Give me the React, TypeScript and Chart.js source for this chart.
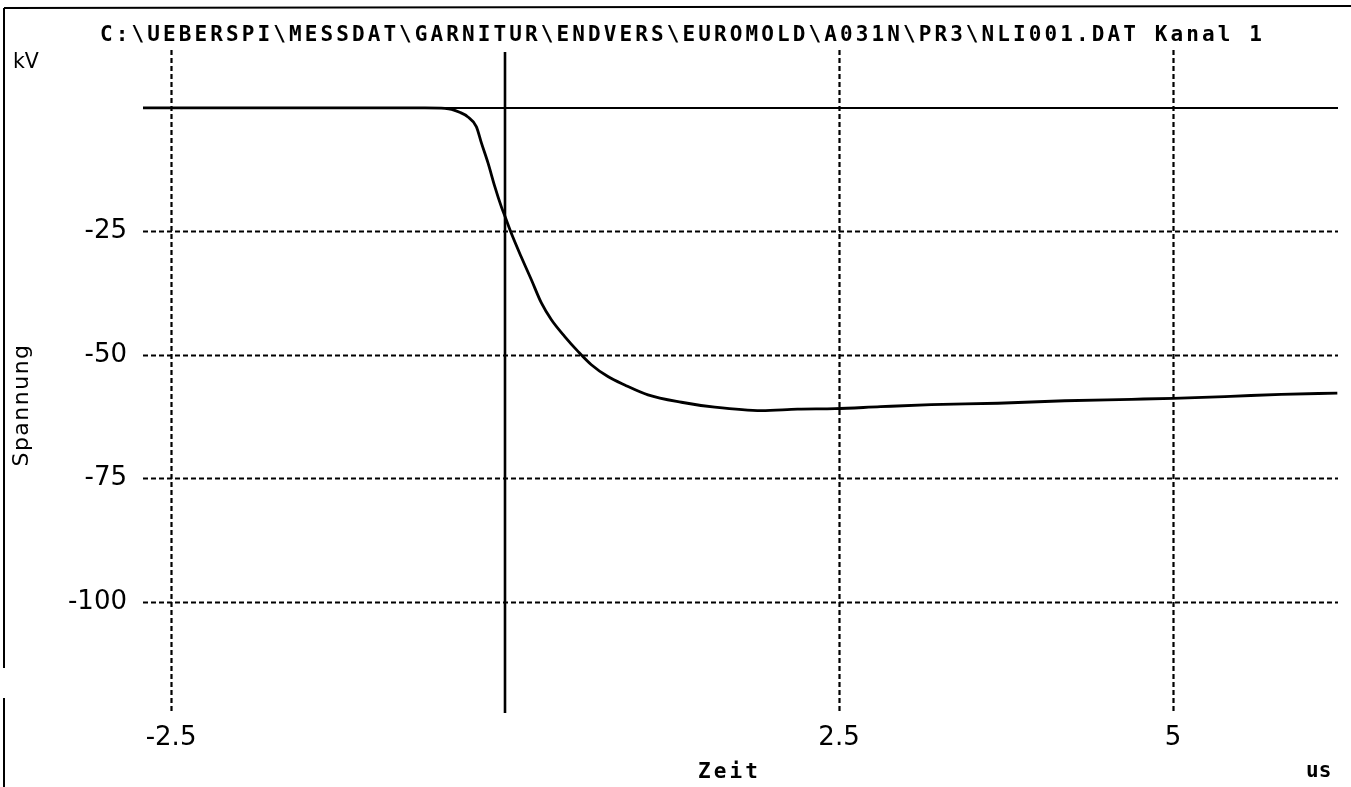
import React, { useEffect, useRef } from "react";
import { Chart, registerables } from "chart.js";

Chart.register(...registerables);

// ---- data ----
const timeValues = [
  -2.71, -1.5, -0.6, -0.45, -0.4, -0.34, -0.28, -0.215, -0.177, -0.127, -0.077, -0.028, 0.0,
  0.047, 0.12, 0.197, 0.272, 0.347, 0.447, 0.546, 0.646, 0.77, 0.896, 1.07, 1.32, 1.57, 1.92,
  2.19, 2.47, 2.81, 3.19, 3.69, 4.19, 4.69, 5.0, 5.43, 5.81, 6.23,
];
const voltageValues = [
  0, 0, 0, -0.1, -0.3, -0.9, -1.8, -3.8, -7.1, -11.2, -15.9, -20, -22,
  -25.4, -30.1, -34.8, -39.5, -42.9, -46.3, -49.3, -52, -54.4, -56.1, -58.1, -59.6, -60.6, -61.3,
  -61.0, -60.9, -60.5, -60.1, -59.8, -59.3, -59.0, -58.8, -58.4, -58.0, -57.75,
];
const xTickValues = [-2.5, 0, 2.5, 5];
const yTickValues = [-100, -75, -50, -25, 0];
const xRange = [-2.71, 6.235];
const yRange = [-122.5, 11.7];

const titleText = "C:\\UEBERSPI\\MESSDAT\\GARNITUR\\ENDVERS\\EUROMOLD\\A031N\\PR3\\NLI001.DAT Kanal 1";
const yUnit = "kV";
const yTitle = "Spannung";
const xTitle = "Zeit";
const xUnit = "us";

const plotterGrid = {
  id: "plotterGrid",
  beforeDatasetsDraw(chart: any) {
    const { ctx, chartArea: a, scales } = chart;
    const x = scales.x;
    const y = scales.y;
    ctx.save();
    ctx.strokeStyle = "#000";
    ctx.lineWidth = 2.2;
    ctx.setLineDash([5, 3]);
    for (const v of xTickValues) {
      if (v === 0) continue;
      const px = Math.round(x.getPixelForValue(v)) + 0.5;
      ctx.beginPath();
      ctx.moveTo(px, a.top);
      ctx.lineTo(px, a.bottom);
      ctx.stroke();
    }
    for (const v of yTickValues) {
      if (v === 0) continue;
      const py = Math.round(y.getPixelForValue(v)) + 0.5;
      ctx.beginPath();
      ctx.moveTo(a.left, py);
      ctx.lineTo(a.right, py);
      ctx.stroke();
    }
    ctx.setLineDash([]);
    ctx.lineWidth = 2.6;
    const zx = Math.round(x.getPixelForValue(0));
    ctx.beginPath();
    ctx.moveTo(zx, a.top + 2);
    ctx.lineTo(zx, a.bottom);
    ctx.stroke();
    ctx.lineWidth = 2;
    const zy = Math.round(y.getPixelForValue(0));
    ctx.beginPath();
    ctx.moveTo(a.left, zy);
    ctx.lineTo(a.right, zy);
    ctx.stroke();
    ctx.restore();
  },
};

const plotterText = {
  id: "plotterText",
  afterDraw(chart: any) {
    const ctx = chart.ctx;
    ctx.save();
    ctx.fillStyle = "#000";
    ctx.textAlign = "left";
    ctx.textBaseline = "alphabetic";
    ctx.font = 'bold 21px "DejaVu Sans Mono"';
    ctx.letterSpacing = "3.1px";
    ctx.fillText(titleText, 100, 40.5);
    ctx.fillText(xTitle, 698, 778);
    ctx.letterSpacing = "0px";
    ctx.font = 'bold 21px "DejaVu Sans Mono"';
    ctx.fillText(xUnit, 1306, 777);
    ctx.font = '20.5px "DejaVu Sans"';
    ctx.fillText(yUnit, 13, 68);
    ctx.save();
    ctx.translate(28, 405);
    ctx.rotate(-Math.PI / 2);
    ctx.textAlign = "center";
    ctx.font = '22px "DejaVu Sans"';
    ctx.letterSpacing = "1.5px";
    ctx.fillText(yTitle, 0, 0);
    ctx.restore();
    // paper frame
    ctx.strokeStyle = "#000";
    ctx.lineWidth = 2;
    ctx.beginPath();
    ctx.moveTo(4, 8);
    ctx.lineTo(1351, 6);
    ctx.moveTo(4, 8);
    ctx.lineTo(4, 668);
    ctx.moveTo(4, 698);
    ctx.lineTo(4, 787);
    ctx.stroke();
    ctx.restore();
  },
};

export default function App() {
  const ref = useRef<HTMLCanvasElement | null>(null);
  useEffect(() => {
    if (!ref.current) return;
    const points = timeValues.map((t, i) => ({ x: t, y: voltageValues[i] }));
    const tickFont = { family: '"DejaVu Sans"', size: 26 };
    const chart = new Chart(ref.current, {
      type: "line",
      data: {
        datasets: [
          {
            data: points,
            borderColor: "#000",
            borderWidth: 2.8,
            pointRadius: 0,
            cubicInterpolationMode: "monotone",
            fill: false,
          },
        ],
      },
      options: {
        animation: false,
        responsive: false,
        devicePixelRatio: 1,
        layout: { padding: { top: 50, right: 13, bottom: 0, left: 0 } },
        plugins: { legend: { display: false }, tooltip: { enabled: false }, title: { display: false } },
        scales: {
          x: {
            type: "linear",
            min: xRange[0],
            max: xRange[1],
            afterBuildTicks: (s: any) => {
              s.ticks = xTickValues.map((v) => ({ value: v }));
            },
            afterFit: (s: any) => {
              s.height = 74;
            },
            grid: { display: false, drawTicks: false },
            border: { display: false },
            ticks: {
              color: "#000",
              font: tickFont,
              padding: 10,
              maxRotation: 0,
              autoSkip: false,
              callback: (v: any) => (v === 0 ? "" : String(v)),
            },
          },
          y: {
            type: "linear",
            min: yRange[0],
            max: yRange[1],
            afterBuildTicks: (s: any) => {
              s.ticks = yTickValues.map((v) => ({ value: v }));
            },
            afterFit: (s: any) => {
              s.width = 143;
            },
            grid: { display: false, drawTicks: false },
            border: { display: false },
            ticks: {
              color: "#000",
              font: tickFont,
              padding: 16,
              autoSkip: false,
              callback: (v: any) => (v === 0 ? "" : String(v)),
            },
          },
        },
      },
      plugins: [plotterGrid, plotterText],
    });
    return () => chart.destroy();
  }, []);
  return (
    <div style={{ position: "fixed", left: 0, top: 0, width: 1351, height: 787, background: "#fff" }}>
      <canvas ref={ref} width={1351} height={787} style={{ display: "block" }} />
    </div>
  );
}
